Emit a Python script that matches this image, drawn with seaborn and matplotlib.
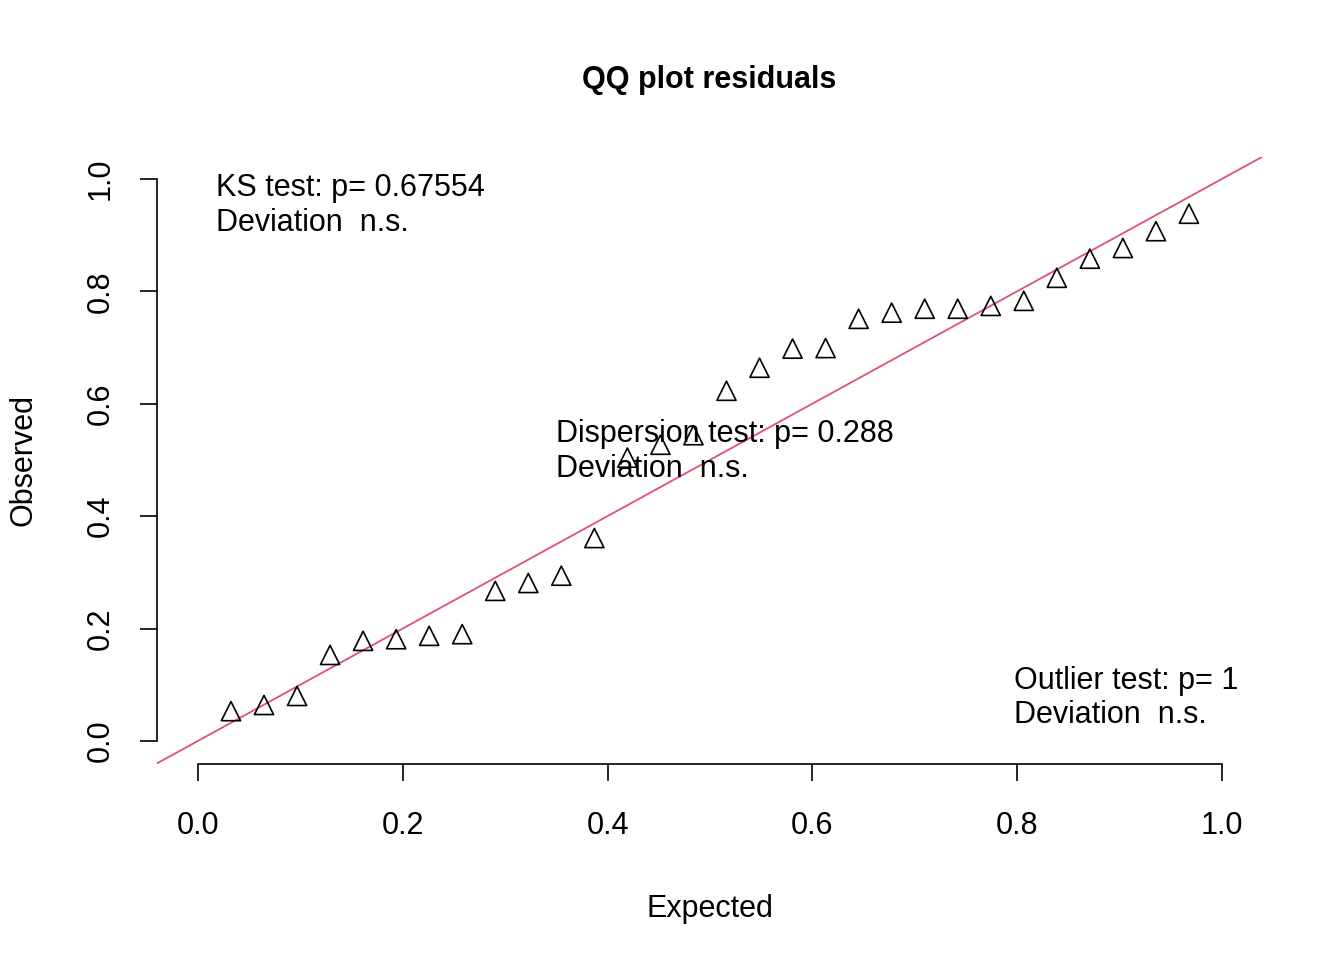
import matplotlib
matplotlib.use("Agg")
import matplotlib.pyplot as plt
import numpy as np
import pandas as pd
import seaborn as sns

# expected quantiles i/31 and observed scaled residuals
rank = np.arange(1, 31)
expected = rank / 31
observed = [0.053, 0.064, 0.080, 0.153, 0.178, 0.181, 0.187, 0.190, 0.267, 0.281,
            0.294, 0.361, 0.504, 0.527, 0.544, 0.623, 0.664, 0.698, 0.699, 0.751,
            0.762, 0.769, 0.769, 0.774, 0.783, 0.824, 0.858, 0.877, 0.907, 0.938]
ticks = [0.0, 0.2, 0.4, 0.6, 0.8, 1.0]

df = pd.DataFrame({"Expected": expected, "Observed": observed})

sns.set_style("white")
plt.rcParams['font.family'] = ['Liberation Sans', 'DejaVu Sans']
plt.rcParams['text.color'] = 'black'
plt.rcParams['axes.labelcolor'] = 'black'

fs = 22
fig = plt.figure(figsize=(13.44, 9.6), dpi=100)
ax = fig.add_axes([0.1168, 0.2042, 0.8229, 0.6323])

sns.scatterplot(data=df, x="Expected", y="Observed", ax=ax, marker="^", s=190,
                facecolors="none", edgecolor="black", linewidth=1.2, zorder=3)
ax.axline((0, 0), slope=1, color="#DF536B", linewidth=1.3, zorder=2)

ax.set_xlim(-0.040, 1.040)
ax.set_ylim(-0.041, 1.039)
ax.set_xticks(ticks)
ax.set_yticks(ticks)
ax.set_xticklabels([f"{t:.1f}" for t in ticks], fontsize=fs)
ax.set_yticklabels([f"{t:.1f}" for t in ticks], fontsize=fs, rotation=90, va="center")
ax.tick_params(axis="both", direction="out", length=12, width=1.2,
               left=True, bottom=True, colors="black")
ax.tick_params(axis="x", pad=22)
ax.tick_params(axis="y", pad=18)
for s in ["top", "right"]:
    ax.spines[s].set_visible(False)
for s in ["left", "bottom"]:
    ax.spines[s].set_color("black")
    ax.spines[s].set_linewidth(1.2)
ax.spines["left"].set_bounds(0, 1)
ax.spines["bottom"].set_bounds(0, 1)

ax.set_xlabel("Expected", fontsize=fs, labelpad=38)
ax.set_ylabel("Observed", fontsize=fs, labelpad=34)
fig.text(0.528, 0.917, "QQ plot residuals", fontsize=fs, fontweight="bold",
         ha="center", va="center")

kw = dict(fontsize=fs, va="top", ha="left", linespacing=1.2)
ax.text(0.018, 1.01, "KS test: p= 0.67554\nDeviation  n.s.", **kw)
ax.text(0.350, 0.572, "Dispersion test: p= 0.288\nDeviation  n.s.", **kw)
ax.text(0.797, 0.134, "Outlier test: p= 1\nDeviation  n.s.", **kw)

fig.savefig("out.png", dpi=100)
